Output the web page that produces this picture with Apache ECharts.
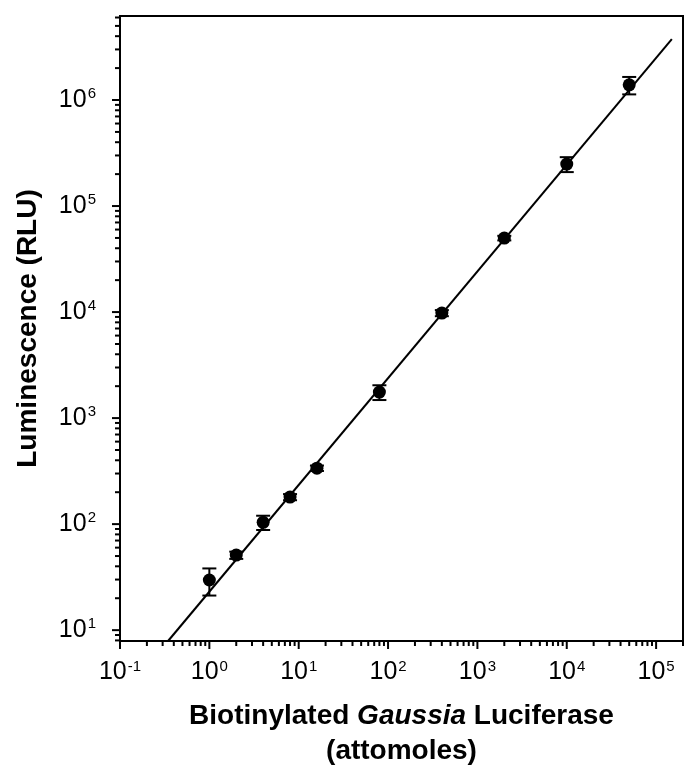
<!DOCTYPE html>
<html><head><meta charset="utf-8">
<script src="https://cdn.jsdelivr.net/npm/echarts@6/dist/echarts.min.js"></script>
<style>html,body{margin:0;padding:0;background:#fff}#c{width:685px;height:776px}</style>
</head><body><div id="c"></div>
<script>
// Data
const amounts = [1, 2, 4, 8, 16, 80, 400, 2000, 10000, 50000];          // attomoles
const luminescence = [29.7, 51, 104, 180, 337, 1760, 9790, 49900, 249000, 1390000]; // RLU
const errorSD = [8.5, 4, 16, 12, 20, 280, 650, 2500, 40000, 260000];
const fitX = [0.345, 150000];
const fitY = [7.9, 3760000];
const xDecades = [0.1, 1, 10, 100, 1000, 10000, 100000];
const yDecades = [10, 100, 1000, 10000, 100000, 1000000];
const xRange = [0.1, 200000];
const yRange = [7.9, 6200000];

const FONT = 'Liberation Sans';

function minorTicks(decades, lo, hi) {
  const out = [];
  const all = [decades[0] / 10].concat(decades);
  all.forEach(d => {
    for (let k = 1; k <= 9; k++) {
      const v = d * k;
      if (v >= lo * 0.9999 && v <= hi * 1.0001) out.push([v, k === 1 ? 1 : 0]);
    }
  });
  return out;
}
const xTickVals = minorTicks(xDecades, xRange[0], xRange[1]);
const yTickVals = minorTicks(yDecades, yRange[0], yRange[1]);

function powLabel(v) {
  const e = Math.log10(v);
  const r = Math.round(e);
  if (Math.abs(e - r) > 1e-6) return '';
  return '{b|10}{s|' + r + '}';
}
const labelRich = {
  b: { fontSize: 25, fontFamily: FONT, color: '#000' },
  s: { fontSize: 15, fontFamily: FONT, color: '#000', verticalAlign: 'top', padding: [0, 0, 12, 1] }
};

const chart = echarts.init(document.getElementById('c'), null, { renderer: 'canvas' });
chart.setOption({
  backgroundColor: '#fff',
  animation: false,
  grid: { left: 120, right: 2, top: 16, bottom: 135, show: true, borderColor: '#000', borderWidth: 2, backgroundColor: 'transparent' },
  xAxis: {
    type: 'log', logBase: 10, min: xRange[0], max: xRange[1],
    splitLine: { show: false }, axisTick: { show: false }, minorTick: { show: false },
    axisLine: { lineStyle: { color: '#000', width: 2 } },
    axisLabel: { formatter: powLabel, margin: 18, rich: labelRich, showMinLabel: true, showMaxLabel: false },
    name: '{b|Biotinylated }{i|Gaussia}{b| Luciferase}\n{b|(attomoles)}',
    nameLocation: 'middle', nameGap: 58,
    nameTextStyle: {
      lineHeight: 35,
      rich: {
        b: { fontSize: 28, fontWeight: 'bold', fontFamily: FONT, color: '#000', lineHeight: 35 },
        i: { fontSize: 28, fontWeight: 'bold', fontStyle: 'italic', fontFamily: FONT, color: '#000', lineHeight: 35 }
      }
    }
  },
  yAxis: {
    type: 'log', logBase: 10, min: yRange[0], max: yRange[1],
    splitLine: { show: false }, axisTick: { show: false }, minorTick: { show: false },
    axisLine: { lineStyle: { color: '#000', width: 2 } },
    axisLabel: { formatter: powLabel, margin: 24, rich: labelRich, showMinLabel: false, showMaxLabel: false },
    name: 'Luminescence (RLU)', nameLocation: 'middle', nameGap: 78, nameRotate: 90,
    nameTextStyle: { fontSize: 28, fontWeight: 'bold', fontFamily: FONT, color: '#000' }
  },
  series: [
    {
      type: 'custom', name: 'xticks', clip: false, silent: true,
      data: xTickVals.map(t => [t[0], yRange[0], t[1]]),
      renderItem: (params, api) => {
        const p = api.coord([api.value(0), api.value(1)]);
        const len = api.value(2) ? 8 : 5;
        return { type: 'line', shape: { x1: p[0], y1: p[1], x2: p[0], y2: p[1] + len }, style: { stroke: '#000', lineWidth: 2 } };
      }
    },
    {
      type: 'custom', name: 'yticks', clip: false, silent: true,
      data: yTickVals.map(t => [xRange[0], t[0], t[1]]),
      renderItem: (params, api) => {
        const p = api.coord([api.value(0), api.value(1)]);
        const len = api.value(2) ? 8 : 5;
        return { type: 'line', shape: { x1: p[0], y1: p[1], x2: p[0] - len, y2: p[1] }, style: { stroke: '#000', lineWidth: 2 } };
      }
    },
    {
      type: 'line', name: 'fit', data: fitX.map((x, i) => [x, fitY[i]]),
      showSymbol: false, lineStyle: { color: '#000', width: 2 }, z: 3
    },
    {
      type: 'custom', name: 'err', z: 4,
      data: amounts.map((x, i) => [x, luminescence[i], errorSD[i]]),
      renderItem: (params, api) => {
        const x = api.value(0), y = api.value(1), s = api.value(2);
        const top = api.coord([x, y + s]);
        const bot = api.coord([x, Math.max(y - s, 1e-9)]);
        const w = 7;
        const st = { stroke: '#000', lineWidth: 2 };
        return { type: 'group', children: [
          { type: 'line', shape: { x1: top[0], y1: top[1], x2: bot[0], y2: bot[1] }, style: st },
          { type: 'line', shape: { x1: top[0] - w, y1: top[1], x2: top[0] + w, y2: top[1] }, style: st },
          { type: 'line', shape: { x1: bot[0] - w, y1: bot[1], x2: bot[0] + w, y2: bot[1] }, style: st }
        ] };
      }
    },
    {
      type: 'scatter', name: 'data', z: 5,
      data: amounts.map((x, i) => [x, luminescence[i]]),
      symbol: 'circle', symbolSize: 13, itemStyle: { color: '#000', opacity: 1 }
    }
  ]
});
</script>
</body></html>
